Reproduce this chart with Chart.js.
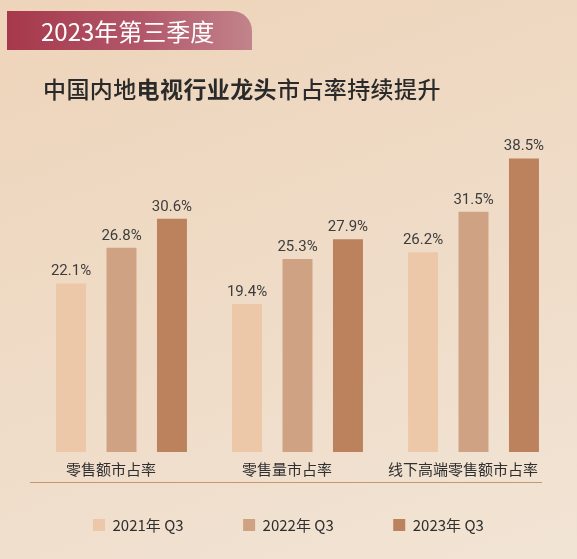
<!DOCTYPE html>
<html lang="zh-CN">
<head>
<meta charset="utf-8">
<title>2023年第三季度 电视行业龙头市占率</title>
<script src="https://cdn.jsdelivr.net/npm/chart.js@4.4.1/dist/chart.umd.min.js"></script>
<style>
    html, body {
        margin: 0;
        padding: 0;
        width: 577px;
        height: 559px;
        overflow: hidden;
    }
    body {
        position: relative;
        background: linear-gradient(160deg, #eed4ba 0%, #efdcc8 55%, #f2e4d5 100%);
        font-family: "Noto Sans CJK SC", "Noto Sans", sans-serif;
    }
    .badge {
        position: absolute;
        left: 7px;
        top: 11px;
        width: 245px;
        height: 39px;
        border-top-right-radius: 20px;
        background: linear-gradient(90deg, #a7384b 0%, #b2576a 55%, #c2848b 100%);
        color: #fff;
        font-size: 24px;
        line-height: 39px;
        padding-left: 34px;
        box-sizing: border-box;
        z-index: 2;
    }
    .title {
        position: absolute;
        left: 43px;
        top: 74px;
        font-size: 23px;
        letter-spacing: 0.4px;
        line-height: 28px;
        color: #2a2a2a;
        font-weight: 500;
        z-index: 2;
    }
    .title b { font-weight: 700; }
    .chart-box {
        position: absolute;
        left: 0;
        top: 0;
        width: 577px;
        height: 559px;
    }
</style>
</head>
<body>
<div class="badge">2023年第三季度</div>
<div class="title">中国内地<b>电视行业龙头</b>市占率持续提升</div>
<div class="chart-box"><canvas id="myChart"></canvas></div>

<script>
// 数据
const categories = ['零售额市占率', '零售量市占率', '线下高端零售额市占率'];
const seriesNames = ['2021年 Q3', '2022年 Q3', '2023年 Q3'];
const share2021 = [22.1, 19.4, 26.2];
const share2022 = [26.8, 25.3, 31.5];
const share2023 = [30.6, 27.9, 38.5];
const yMax = 40;

const seriesColors = ['#ecc8a9', '#cfa283', '#bb825d'];

// 柱顶数值、分类名称、底部分隔线
const decorPlugin = {
    id: 'decor',
    afterDatasetsDraw(chart) {
        const ctx = chart.ctx;
        chart.data.datasets.forEach((ds, di) => {
            const meta = chart.getDatasetMeta(di);
            meta.data.forEach((bar, i) => {
                ctx.save();
                ctx.font = '400 15px Roboto, "Noto Sans", sans-serif';
                ctx.fillStyle = '#3d3d3d';
                ctx.textAlign = 'center';
                ctx.textBaseline = 'alphabetic';
                ctx.fillText(ds.data[i].toFixed(1) + '%', bar.x, bar.y - 8);
                ctx.restore();
            });
        });
    },
    afterDraw(chart) {
        const ctx = chart.ctx;
        const area = chart.chartArea;
        const xScale = chart.scales.x;
        ctx.save();
        // 分类名称（整体略向左偏）
        ctx.font = '15px "Noto Sans CJK SC", sans-serif';
        ctx.fillStyle = '#2f2f2f';
        ctx.textAlign = 'center';
        ctx.textBaseline = 'middle';
        chart.data.labels.forEach((label, i) => {
            ctx.fillText(label, xScale.getPixelForValue(i) - 10.5, area.bottom + 17);
        });
        // 分隔线
        ctx.strokeStyle = '#c4976f';
        ctx.lineWidth = 1.2;
        ctx.beginPath();
        ctx.moveTo(area.left - 3.5, area.bottom + 30.5);
        ctx.lineTo(area.right - 19.5, area.bottom + 30.5);
        ctx.stroke();
        ctx.restore();
    }
};

const allSeries = [share2021, share2022, share2023];

const ctx = document.getElementById('myChart').getContext('2d');
const myChart = new Chart(ctx, {
    type: 'bar',
    data: {
        labels: categories,
        datasets: allSeries.map((values, i) => ({
            label: seriesNames[i],
            data: values,
            backgroundColor: seriesColors[i],
            borderWidth: 0,
            categoryPercentage: 0.86,
            barPercentage: 0.594
        }))
    },
    options: {
        responsive: true,
        maintainAspectRatio: false,
        animation: false,
        layout: {
            padding: { left: 33.5, right: 15.5, top: 147, bottom: 16.5 }
        },
        scales: {
            x: {
                grid: { display: false, drawTicks: false },
                border: { display: false },
                ticks: { display: false },
                afterFit: (scale) => { scale.height = 6; }
            },
            y: {
                display: false,
                min: 0,
                max: yMax
            }
        },
        plugins: {
            legend: {
                position: 'bottom',
                align: 'start',
                labels: {
                    boxWidth: 12,
                    boxHeight: 12,
                    padding: 59.5,
                    color: '#2f2f2f',
                    font: { family: '"Noto Sans CJK SC", sans-serif', size: 15 }
                }
            },
            tooltip: { enabled: false }
        }
    },
    plugins: [decorPlugin]
});
</script>
</body>
</html>
